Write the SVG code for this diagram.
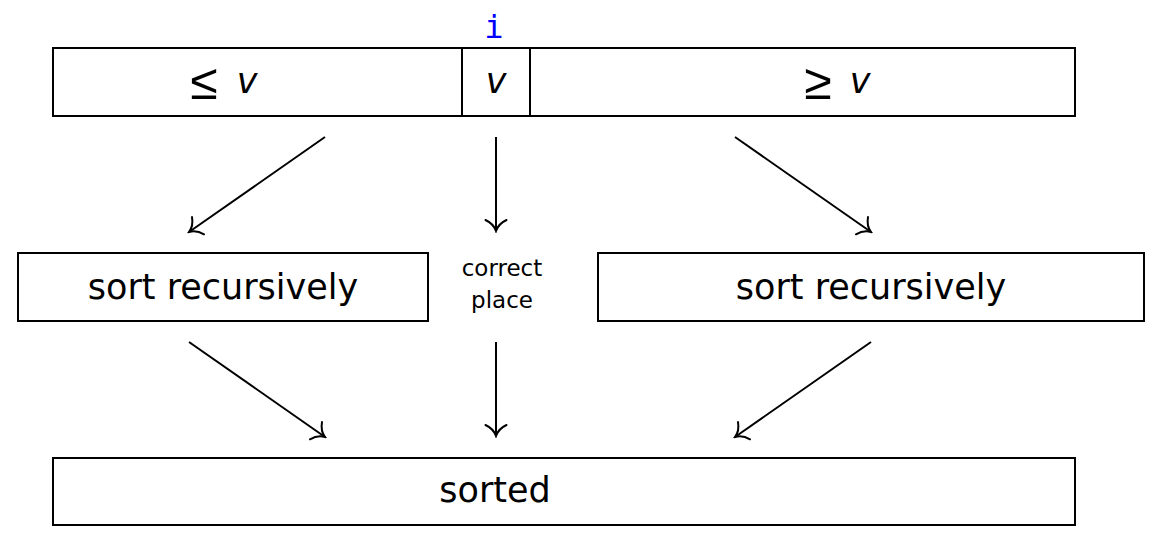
<svg xmlns="http://www.w3.org/2000/svg" width="1163" height="551" viewBox="0 0 1163 551">
<style>
.box{fill:#fff;stroke:#000;stroke-width:2}
.t{font-family:"DejaVu Sans","Liberation Sans",sans-serif;font-size:35px;fill:#000;text-anchor:middle}
.rel{font-family:"Liberation Sans","DejaVu Sans",sans-serif;font-size:50px;fill:#000;text-anchor:middle}
.s{font-family:"DejaVu Sans","Liberation Sans",sans-serif;font-size:23px;fill:#000;text-anchor:middle}
.m{font-family:"DejaVu Sans Mono","Liberation Mono",monospace;font-size:32px;fill:#0000ff;text-anchor:middle}
.c{stroke:#000;stroke-width:2;fill:none;marker-end:url(#to)}
</style>
<defs>
<marker id="to" markerUnits="userSpaceOnUse" viewBox="-14 -14 16 28" markerWidth="16" markerHeight="28" refX="0" refY="0" orient="auto">
<path d="M-11,-10.5 C-8,-4 -3,-1 0,0 C-3,1 -8,4 -11,10.5" fill="none" stroke="#000" stroke-width="2" stroke-linecap="round"/>
</marker>
</defs>
<rect width="1163" height="551" fill="#fff"/>
<g id="array">
<rect class="box" x="53" y="48" width="1022" height="68"/>
<line x1="462" y1="48" x2="462" y2="116" stroke="#000" stroke-width="2"/>
<line x1="530" y1="48" x2="530" y2="116" stroke="#000" stroke-width="2"/>
<text class="rel" x="204" y="99">≤</text>
<text class="t" x="247" y="93" font-style="italic">v</text>
<text class="t" x="496" y="93" font-style="italic">v</text>
<text class="rel" x="818" y="99">≥</text>
<text class="t" x="860" y="93" font-style="italic">v</text>
<text class="m" x="494" y="38">i</text>
</g>
<g id="left">
<rect class="box" x="18" y="253" width="410" height="68"/>
<text class="t" x="223" y="299">sort recursively</text>
</g>
<g id="mid">
<text class="s" x="502" y="276">correct</text>
<text class="s" x="502" y="308">place</text>
</g>
<g id="right">
<rect class="box" x="598" y="253" width="546" height="68"/>
<text class="t" x="871" y="299">sort recursively</text>
</g>
<g id="sorted">
<rect class="box" x="53" y="458" width="1022" height="67"/>
<text class="t" x="495" y="502">sorted</text>
</g>
<g id="connectors">
<line class="c" x1="325" y1="137" x2="189" y2="232"/>
<line class="c" x1="496" y1="137" x2="496" y2="231"/>
<line class="c" x1="735" y1="137" x2="871" y2="232"/>
<line class="c" x1="189" y1="342" x2="325" y2="437"/>
<line class="c" x1="496" y1="342" x2="496" y2="436"/>
<line class="c" x1="871" y1="342" x2="735" y2="437"/>
</g>
</svg>
